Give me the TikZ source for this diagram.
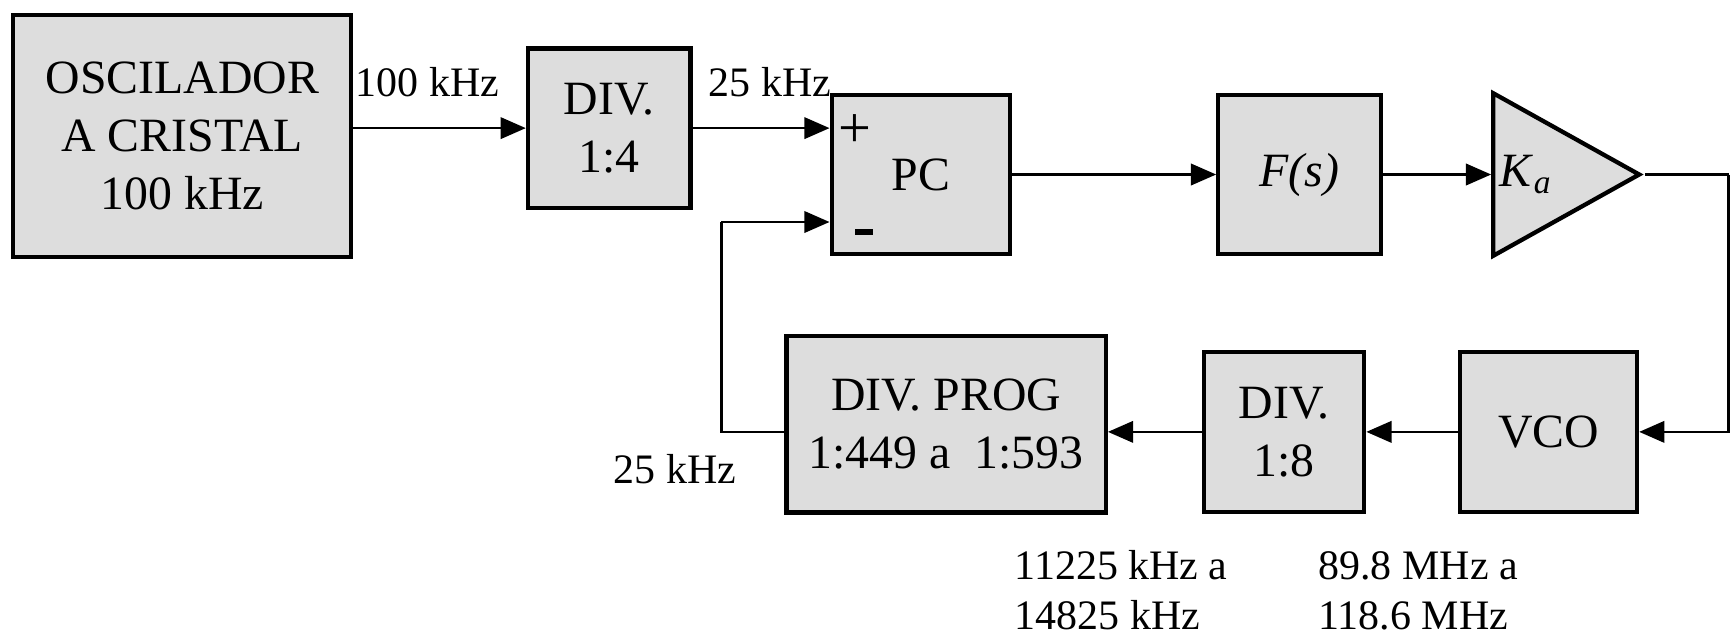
\documentclass[tikz,border=0pt]{standalone}
\usepackage{fontspec}
\setmainfont{Liberation Serif}
\usepackage{tikz}
\usetikzlibrary{arrows.meta, positioning, shapes.geometric, calc}
\definecolor{boxgray}{RGB}{221,221,221}

\begin{document}
\begin{tikzpicture}[
        x=0.01cm, y=-0.01cm,
        block/.style={draw, line width=1.1pt, fill=boxgray, align=center, inner sep=0pt, font=\fontsize{12.3}{15}\selectfont},
        amp/.style={draw, line width=1.1pt, fill=boxgray, isosceles triangle, isosceles triangle stretches, shape border rotate=0, inner sep=0pt, minimum width=1.47cm, minimum height=1.32cm, font=\fontsize{12.3}{15}\selectfont},
        line/.style={line width=0.7pt},
        arr/.style={line, -{Triangle[length=6.5pt, width=5.5pt]}},
        lbl/.style={font=\fontsize{10.8}{13}\selectfont, inner sep=0pt, align=left}
    ]
        \useasboundingbox (0,0) rectangle (1568,574);
        % -- upper row --
        \node[block, minimum width=3.06cm, minimum height=2.19cm] (osc)  at (165,123) {OSCILADOR\\A CRISTAL\\100 kHz};
        \node[block, minimum width=1.47cm, minimum height=1.44cm] (div4) at (551.5,116) {DIV.\\1:4};
        \node[block, minimum width=1.61cm, minimum height=1.44cm] (pc)   at (833.5,158) {PC};
        \node[block, minimum width=1.47cm, minimum height=1.44cm] (fs)   at (1176.5,158) {\textit{F(s)}};
        \node[amp, anchor=lower side] (ka) at (1350,158) {\textit{K}\textsubscript{\textit{a}}\hspace*{0.35cm}};
        % -- lower row --
        \node[block, minimum width=1.60cm, minimum height=1.45cm] (vco)  at (1402,391) {VCO};
        \node[block, minimum width=1.45cm, minimum height=1.45cm] (div8) at (1162.5,391) {DIV.\\1:8};
        \node[block, minimum width=2.89cm, minimum height=1.60cm] (prog) at (856.5,384) {DIV. PROG\\1:449 a\ \ 1:593};

        % signs of the phase comparator
        \node[font=\fontsize{15}{16}\selectfont\addfontfeatures{}, inner sep=0pt] (plus) at (774,119) {+};
        \node[fill=black, inner sep=0pt, minimum width=0.16cm, minimum height=0.06cm] (minus) at (782,210) {};

        % frequency labels
        \node[lbl, anchor=base] (f100) at (387,87)  {100 kHz};
        \node[lbl, anchor=base] (f25a) at (697,87)  {25 kHz};
        \node[lbl, anchor=base] (f25b) at (611,438) {25 kHz};
        \node[lbl, anchor=base west] (fprog) at (918,570) {11225 kHz a\\14825 kHz};
        \node[lbl, anchor=base west] (fvco)  at (1193,570) {89.8 MHz a\\118.6 MHz};

        % forward path
        \draw[arr] (osc.east |- div4.west) -- (div4.west);
        \draw[arr] (div4.east) -- (div4.east -| pc.west);
        \draw[arr] (pc.east) -- (fs.west);
        \draw[arr] (fs.east) -- (ka.lower side);

        % loop back through VCO and dividers
        \coordinate (turn) at (1565,158);
        \draw[line] (ka.apex) -- (turn);
        \draw[arr]  (turn) |- (vco.east);
        \draw[arr]  (vco.west) -- (div8.east);
        \draw[arr]  (div8.west) -- (div8.west -| prog.east);
        \coordinate (fb) at (653,201);
        \draw[line] (div8.west -| prog.west) -| (fb);
        \draw[arr]  (fb) -- (fb -| pc.west);
    \end{tikzpicture}
\end{document}
